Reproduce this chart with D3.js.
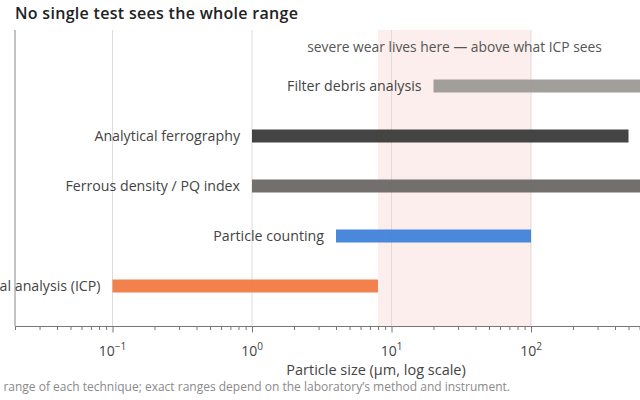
<!DOCTYPE html>
<html>
<head>
<meta charset="utf-8">
<script src="https://cdn.jsdelivr.net/npm/d3@7"></script>
<style>
  body { margin: 0; background: #fff; }
  svg { display: block; font-family: "Open Sans", "Noto Sans", sans-serif; }
</style>
</head>
<body>
<div id="canvas"></div>
<script>
const width = 640;
const height = 400;

// techniques, bottom to top, with the size range each one sees (µm)
const techniques = ['Elemental analysis (ICP)', 'Particle counting', 'Ferrous density / PQ index', 'Analytical ferrography', 'Filter debris analysis'];
const rangeLow = [0.1, 4, 1, 1, 20];
const rangeHigh = [8, 100, 1500, 500, 2500];
const barColors = ['#f07a43', '#3f82d9', '#6a6765', '#3a3a3a', '#9d9995'];

const bandLow = 8;
const bandHigh = 100;
const bandNote = 'severe wear lives here — above what ICP sees';
const decades = [0.1, 1, 10, 100, 1000];

const svg = d3.select('#canvas').append('svg')
  .attr('width', width)
  .attr('height', height);

const plotTop = 30, plotBottom = 326, plotLeft = 15;
const decadePx = 139.5;
const xScale = d3.scaleLog()
  .domain([0.02, 3000])
  .range([plotLeft, plotLeft + decadePx * Math.log10(3000 / 0.02)]);

const yScale = d3.scalePoint()
  .domain(techniques)
  .range([286, 86]);

// title
svg.append('text')
  .attr('x', 15).attr('y', 19)
  .attr('font-size', 16).attr('font-weight', 600)
  .attr('letter-spacing', 0.3)
  .attr('fill', '#222')
  .text('No single test sees the whole range');

// highlighted band
svg.append('rect')
  .attr('x', xScale(bandLow))
  .attr('width', xScale(bandHigh) - xScale(bandLow))
  .attr('y', plotTop).attr('height', plotBottom - plotTop)
  .attr('fill', '#fbeeec');

// decade gridlines
svg.append('g').selectAll('line')
  .data(decades)
  .join('line')
  .attr('x1', d => xScale(d)).attr('x2', d => xScale(d))
  .attr('y1', plotTop).attr('y2', plotBottom)
  .attr('stroke', '#e0dada').attr('stroke-width', 1);

svg.append('text')
  .attr('x', (xScale(bandLow) + xScale(bandHigh)) / 2)
  .attr('y', 52)
  .attr('text-anchor', 'middle')
  .attr('font-size', 13.8).attr('fill', '#555')
  .text(bandNote);

// bars
const rows = techniques.map((t, i) => ({ name: t, lo: rangeLow[i], hi: rangeHigh[i], color: barColors[i] }));

svg.append('g').selectAll('rect')
  .data(rows)
  .join('rect')
  .attr('x', d => xScale(d.lo))
  .attr('width', d => xScale(d.hi) - xScale(d.lo))
  .attr('y', d => yScale(d.name) - 6.5)
  .attr('height', 13)
  .attr('fill', d => d.color)
  .attr('opacity', 0.95);

// row labels
svg.append('g').selectAll('text')
  .data(rows)
  .join('text')
  .attr('x', d => xScale(d.lo) - 12)
  .attr('y', d => yScale(d.name))
  .attr('dy', '0.35em')
  .attr('text-anchor', 'end')
  .attr('font-size', 14.2).attr('fill', '#444')
  .text(d => d.name);

// left axis line
svg.append('line')
  .attr('x1', plotLeft).attr('x2', plotLeft)
  .attr('y1', plotTop).attr('y2', plotBottom)
  .attr('stroke', '#888');

// bottom axis
const xAxis = d3.axisBottom(xScale)
  .tickSize(4)
  .tickFormat('');

const axisG = svg.append('g')
  .attr('transform', `translate(0,${plotBottom})`)
  .call(xAxis);
axisG.select('.domain').attr('stroke', '#777');
axisG.selectAll('.tick line')
  .attr('stroke', '#777')
  .attr('y2', d => decades.includes(d) ? 6.5 : 4);

const labels = svg.append('g').selectAll('text')
  .data(decades.filter(d => xScale(d) < width - 20))
  .join('text')
  .attr('x', d => xScale(d))
  .attr('y', plotBottom + 30)
  .attr('text-anchor', 'middle')
  .attr('font-size', 14).attr('fill', '#444');
labels.append('tspan').text('10');
labels.append('tspan')
  .attr('dy', -6).attr('font-size', 10)
  .text(d => { const e = Math.round(Math.log10(d)); return e < 0 ? '−' + (-e) : String(e); });

svg.append('text')
  .attr('x', (xScale.range()[0] + xScale.range()[1]) / 2)
  .attr('y', 375)
  .attr('text-anchor', 'middle')
  .attr('font-size', 14.5).attr('fill', '#444')
  .text('Particle size (µm, log scale)');

svg.append('text')
  .attr('x', 510).attr('y', 391)
  .attr('text-anchor', 'end')
  .attr('font-size', 12).attr('fill', '#8a8a8a')
  .text('Approximate range of each technique; exact ranges depend on the laboratory’s method and instrument.');
</script>
</body>
</html>
